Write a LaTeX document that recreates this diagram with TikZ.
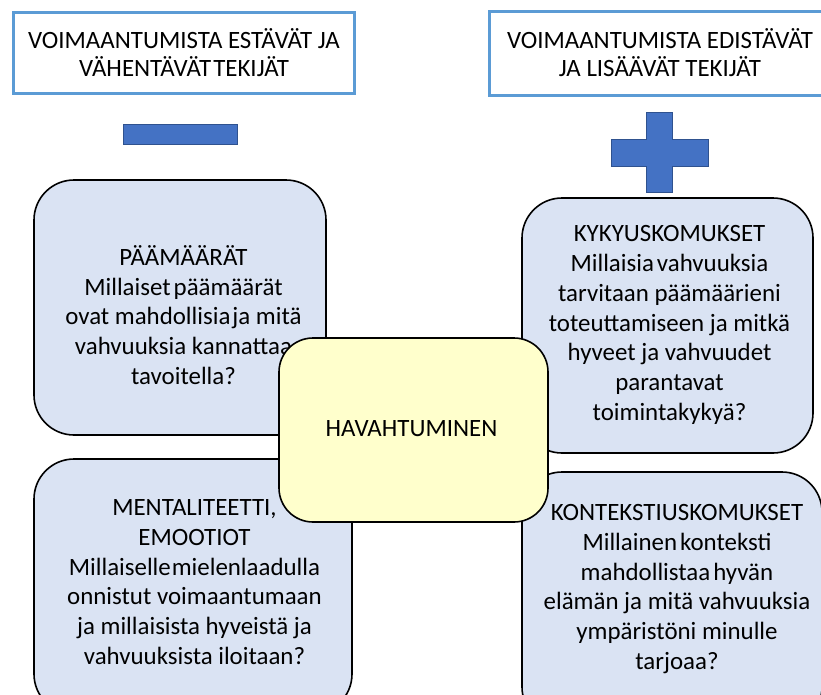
\documentclass[tikz,border=0pt]{standalone}
\usepackage{fontspec}
\setmainfont{Carlito}
\definecolor{boxblue}{HTML}{DAE3F3}
\definecolor{paleyellow}{HTML}{FFFFCC}
\definecolor{titleblue}{HTML}{5B9BD5}
\definecolor{signfill}{HTML}{4472C4}
\definecolor{signline}{HTML}{2F528F}
\begin{document}
\begin{tikzpicture}[x=1pt,y=-1pt,
  titlebox/.style={draw=titleblue, line width=3pt, fill=white, inner sep=0pt},
  qbox/.style={draw=black, line width=1.6pt, fill=boxblue, rounded corners=40pt, inner sep=0pt},
  corebox/.style={draw=black, line width=1.6pt, fill=paleyellow, rounded corners=34pt, inner sep=0pt},
  sign/.style={draw=signline, line width=1pt, fill=signfill},
  txt/.style={font=\fontsize{24.9}{29.7}\selectfont, align=center, inner sep=0pt},
  ttxt/.style={font=\fontsize{24.9}{28}\selectfont, align=center, inner sep=0pt}]
\useasboundingbox (0,0) rectangle (821,694);
\fill[white] (0,0) rectangle (821,694);
\clip (0,0) rectangle (821,694);

% title boxes
\node[titlebox, minimum width=341pt, minimum height=81pt] (tleft) at (184,53) {};
\node[ttxt] (tleftT) at (184,53) {VOIMAANTUMISTA ESTÄVÄT JA\\VÄHENTÄVÄT\hspace{2pt}TEKIJÄT};
\node[titlebox, minimum width=351pt, minimum height=84pt] (tright) at (665,53.5) {};
\node[ttxt] (trightT) at (660,53) {VOIMAANTUMISTA EDISTÄVÄT\\JA LISÄÄVÄT TEKIJÄT};

% signs
\node[sign, minimum width=114pt, minimum height=20pt, inner sep=0pt] (minus) at (180,134) {};
\filldraw[sign] (646,112) -- (672,112) -- (672,139) -- (708,139) -- (708,166) -- (672,166)
  -- (672,192) -- (646,192) -- (646,166) -- (611,166) -- (611,139) -- (646,139) -- cycle;

% question boxes
\node[qbox, minimum width=292pt, minimum height=255pt] (goals) at (180,307.5) {};
\node[txt] (goalsT) at (183.5,315) {PÄÄMÄÄRÄT\\Millaiset\hspace{3pt}päämäärät\\ovat mahdollisia\hspace{2pt}ja mitä\\vahvuuksia kannattaa\\tavoitella?};

\node[qbox, minimum width=291pt, minimum height=255pt] (ability) at (667.5,325.5) {};
\node[txt] (abilityT) at (669.5,325) {KYKYUSKOMUKSET\\Millaisia\hspace{3pt}vahvuuksia\\tarvitaan päämäärieni\\toteuttamiseen ja mitkä\\hyveet ja vahvuudet\\parantavat\\toimintakykyä?};

\node[qbox, minimum width=318pt, minimum height=255pt] (mind) at (193,586.5) {};
\node[txt] (mindT) at (194.5,582) {MENTALITEETTI,\\EMOOTIOT\\Millaiselle\hspace{1pt}mielenlaadulla\\onnistut voimaantumaan\\ja millaisista hyveistä ja\\vahvuuksista iloitaan?};

\node[qbox, minimum width=300pt, minimum height=255pt] (context) at (672,599.5) {};
\node[txt] (contextT) at (677,589) {KONTEKSTIUSKOMUKSET\\Millainen\hspace{3pt}konteksti\\mahdollistaa\hspace{3pt}hyvän\\elämän ja mitä vahvuuksia\\ympäristöni minulle\\tarjoaa?};

% core
\node[corebox, minimum width=269pt, minimum height=184pt] (core) at (413.5,430) {};
\node[txt] (coreT) at (411.5,429) {HAVAHTUMINEN};
\end{tikzpicture}
\end{document}
